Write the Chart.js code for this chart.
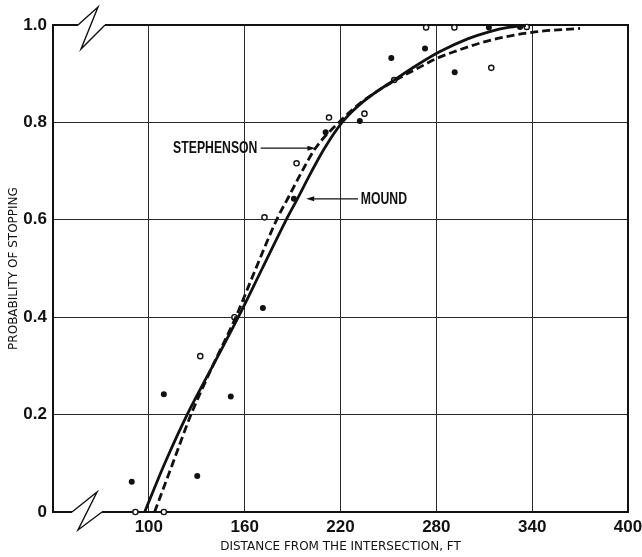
<!DOCTYPE html>
<html>
<head>
<meta charset="utf-8">
<script src="https://cdn.jsdelivr.net/npm/chart.js@4/dist/chart.umd.min.js"></script>
<style>
  html, body { margin: 0; padding: 0; background: #fff; }
  canvas { display: block; }
</style>
</head>
<body>
<canvas id="myChart" width="642" height="557"></canvas>
<script>
// values

const xTicks = [40, 100, 160, 220, 280, 340, 400];
const yTicks = [0, 0.2, 0.4, 0.6, 0.8, 1.0];

// fitted curves
const moundX = [97.4, 110, 124, 140, 156, 171, 186, 193, 202, 210, 221, 234, 255, 270, 282, 300, 313, 325, 336];
const moundY = [0, 0.1, 0.2, 0.3, 0.4, 0.5, 0.6, 0.643, 0.7, 0.747, 0.8, 0.842, 0.89, 0.922, 0.945, 0.972, 0.986, 0.995, 0.999];
const stephX = [103.6, 115, 126.4, 140, 154.4, 167, 180, 188, 196, 204.3, 219, 232.5, 254.5, 270, 280, 291, 313, 340, 370];
const stephY = [0, 0.1, 0.2, 0.3, 0.4, 0.5, 0.6, 0.65, 0.7, 0.747, 0.8, 0.84, 0.887, 0.914, 0.931, 0.945, 0.968, 0.985, 0.993];

// observed points
const filledX = [89.3, 109.4, 130.3, 151.3, 171.4, 190.8, 210.7, 232.1, 251.8, 272.9, 291.5, 312.9, 332.4];
const filledY = [0.062, 0.242, 0.074, 0.237, 0.419, 0.643, 0.780, 0.803, 0.932, 0.952, 0.903, 0.995, 0.996];
const openX = [91.6, 109.4, 132.2, 153.6, 172.4, 192.5, 212.8, 235.0, 253.6, 273.6, 291.3, 314.4, 336.6];
const openY = [0, 0, 0.320, 0.40, 0.605, 0.716, 0.81, 0.818, 0.887, 0.995, 0.995, 0.912, 0.996];

const INK = '#111';
const BOLD = "'Liberation Sans', 'Arial', sans-serif";

function pts(xs, ys) {
  return xs.map((x, i) => ({ x: x, y: ys[i] }));
}

// frame with the broken-axis marks on the left
const frame = {
  id: 'frame',
  beforeDatasetsDraw(chart) {
    const { ctx, chartArea: a } = chart;
    const L = a.left, T = a.top, B = a.bottom, R = a.right;
    ctx.save();
    ctx.strokeStyle = INK;
    ctx.lineWidth = 2;
    ctx.beginPath();
    ctx.moveTo(L + 25, T);
    ctx.lineTo(L, T);
    ctx.lineTo(L, B);
    ctx.lineTo(L + 19, B);
    ctx.moveTo(L + 52, T);
    ctx.lineTo(R, T);
    ctx.lineTo(R, B);
    ctx.lineTo(L + 49, B);
    ctx.stroke();
    ctx.lineWidth = 1.4;
    ctx.beginPath();
    ctx.moveTo(L + 25, T);
    ctx.lineTo(L + 45, T - 18);
    ctx.lineTo(L + 28, T + 24);
    ctx.lineTo(L + 52, T);
    ctx.moveTo(L + 19, B);
    ctx.lineTo(L + 44, B - 20);
    ctx.lineTo(L + 25, B + 18);
    ctx.lineTo(L + 49, B);
    ctx.stroke();
    ctx.restore();
  }
};

// curve labels with arrows (squeezed a bit to look like the condensed type)
const labels = {
  id: 'labels',
  afterDatasetsDraw(chart) {
    const { ctx } = chart;
    const xs = chart.scales.x, ys = chart.scales.y;
    function arrow(x0, x1, yv) {
      const p0 = xs.getPixelForValue(x0);
      const p1 = xs.getPixelForValue(x1);
      const py = ys.getPixelForValue(yv);
      const dir = p1 > p0 ? 1 : -1;
      ctx.beginPath();
      ctx.moveTo(p0, py);
      ctx.lineTo(p1 - dir * 6, py);
      ctx.stroke();
      ctx.beginPath();
      ctx.moveTo(p1, py);
      ctx.lineTo(p1 - dir * 8, py - 2.5);
      ctx.lineTo(p1 - dir * 8, py + 2.5);
      ctx.closePath();
      ctx.fill();
    }
    function squeezed(text, xv, yv, align) {
      const px = xs.getPixelForValue(xv);
      const py = ys.getPixelForValue(yv);
      ctx.save();
      ctx.translate(px, py);
      ctx.scale(0.72, 1);
      ctx.textAlign = align;
      ctx.fillText(text, 0, 0);
      ctx.restore();
    }
    ctx.save();
    ctx.fillStyle = INK;
    ctx.strokeStyle = INK;
    ctx.lineWidth = 1.2;
    ctx.font = 'bold 17px ' + BOLD;
    ctx.textBaseline = 'middle';
    squeezed('STEPHENSON', 168, 0.747, 'right');
    arrow(170, 204.3, 0.747);
    squeezed('MOUND', 232.7, 0.643, 'left');
    arrow(231, 198.5, 0.643);
    ctx.restore();
  }
};

function hideEdges(values) {
  return function (c) {
    return values.includes(c.tick.value) ? 'rgba(0,0,0,0)' : '#2a2a2a';
  };
}

const config = {
  type: 'scatter',
  data: {
    datasets: [{
      label: 'Mound',
      data: pts(moundX, moundY),
      showLine: true,
      borderColor: INK,
      borderWidth: 2.8,
      pointRadius: 0,
      cubicInterpolationMode: 'monotone',
    }, {
      label: 'Stephenson',
      data: pts(stephX, stephY),
      showLine: true,
      borderColor: INK,
      borderWidth: 2.8,
      borderDash: [8, 4],
      pointRadius: 0,
      cubicInterpolationMode: 'monotone',
    }, {
      label: 'Observed (filled)',
      data: pts(filledX, filledY),
      pointRadius: 3,
      backgroundColor: INK,
      borderColor: INK,
      borderWidth: 0,
      clip: false,
    }, {
      label: 'Observed (open)',
      data: pts(openX, openY),
      pointRadius: 2.6,
      backgroundColor: '#fff',
      borderColor: INK,
      borderWidth: 1.4,
      clip: false,
    }],
  },
  options: {
    responsive: false,
    animation: false,
    devicePixelRatio: 1,
    layout: { padding: { top: 25, right: 14, bottom: 0, left: 0 } },
    plugins: {
      legend: { display: false },
      tooltip: { enabled: false },
    },
    scales: {
      x: {
        type: 'linear',
        min: 40,
        max: 400,
        afterBuildTicks: (s) => { s.ticks = xTicks.map(v => ({ value: v })); },
        afterFit: (s) => { s.height = 45; s.paddingLeft = 0; s.paddingRight = 0; },
        border: { display: false },
        grid: { color: hideEdges([40, 400]), lineWidth: 1, drawTicks: false },
        ticks: {
          padding: 5,
          color: INK,
          maxRotation: 0,
          font: { family: BOLD, size: 17, weight: 'bold' },
          callback: (v) => (v === 40 ? '' : String(v)),
        },
        title: {
          display: true,
          text: 'DISTANCE FROM THE INTERSECTION, FT',
          color: INK,
          font: { family: "'DejaVu Sans', sans-serif", size: 12 },
          padding: { top: 0, bottom: 3 },
        },
      },
      y: {
        type: 'linear',
        min: 0,
        max: 1,
        afterBuildTicks: (s) => { s.ticks = yTicks.map(v => ({ value: v })); },
        afterFit: (s) => { s.width = 53; },
        border: { display: false },
        grid: { color: hideEdges([0, 1]), lineWidth: 1, drawTicks: false },
        ticks: {
          padding: 6,
          color: INK,
          font: { family: BOLD, size: 17, weight: 'bold' },
          callback: (v) => (v === 0 ? '0' : v.toFixed(1)),
        },
        title: {
          display: true,
          text: 'PROBABILITY OF STOPPING',
          color: INK,
          font: { family: "'DejaVu Sans', sans-serif", size: 12 },
          padding: { top: 7, bottom: 0 },
        },
      },
    },
  },
  plugins: [frame, labels],
};

const myChart = new Chart(document.getElementById('myChart'), config);
</script>
</body>
</html>
